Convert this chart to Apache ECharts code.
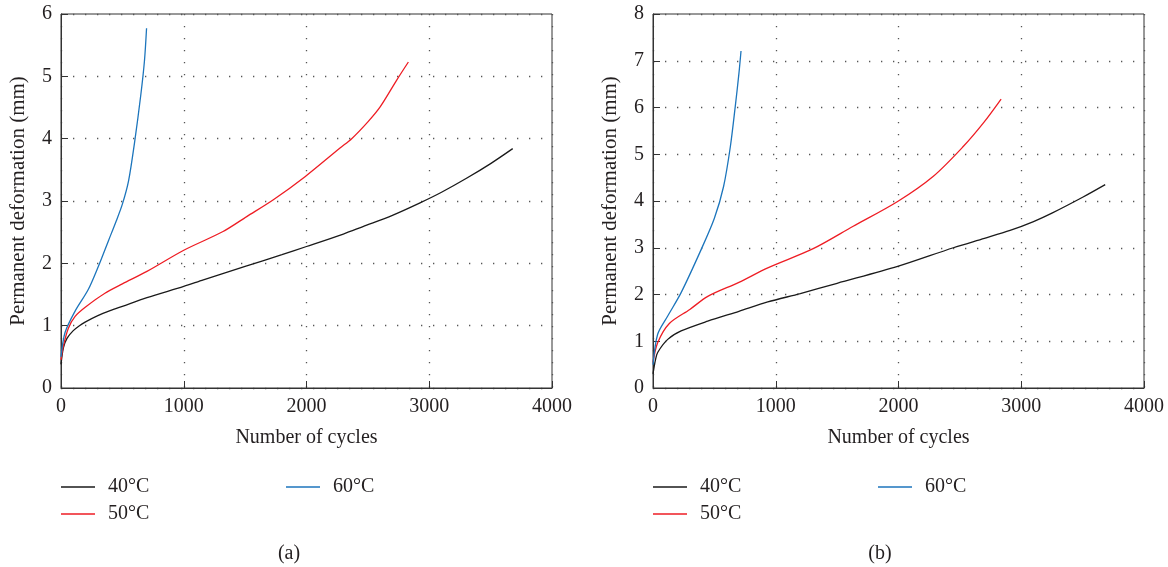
<!DOCTYPE html>
<html>
<head>
<meta charset="utf-8">
<script src="https://cdn.jsdelivr.net/npm/echarts@6/dist/echarts.min.js"></script>
<style>
html,body{margin:0;padding:0;background:#fff;}
#chart{width:1168px;height:567px;}
</style>
</head>
<body>
<div id="chart"></div>
<script>
// ---- data ----
const seriesNames = ['40°C', '50°C', '60°C'];
const xTicks = [0, 1000, 2000, 3000, 4000];

// panel (a)
const a40x = [0, 20, 50, 100, 150, 200, 300, 400, 500, 700, 1000, 1160, 1500, 1800, 2000, 2300, 2460, 2700, 2925, 3100, 3300, 3500, 3680];
const a40y = [0.38, 0.65, 0.8, 0.92, 1.0, 1.06, 1.16, 1.24, 1.31, 1.45, 1.63, 1.735, 1.95, 2.14, 2.27, 2.47, 2.59, 2.77, 2.97, 3.14, 3.36, 3.6, 3.84];
const a50x = [0, 20, 60, 115, 200, 358, 500, 700, 1000, 1320, 1513, 1730, 1988, 2273, 2368, 2500, 2600, 2735, 2830];
const a50y = [0.45, 0.68, 0.96, 1.15, 1.3, 1.52, 1.67, 1.87, 2.21, 2.51, 2.75, 3.02, 3.39, 3.85, 4.0, 4.27, 4.51, 4.94, 5.23];
const a60x = [0, 33, 114, 222, 304, 386, 450, 500, 550, 600, 650, 680, 697];
const a60y = [0.5, 0.89, 1.23, 1.58, 1.95, 2.36, 2.68, 2.95, 3.32, 3.95, 4.7, 5.25, 5.77];

// panel (b)
const b40x = [0, 20, 38, 120, 229, 446, 700, 935, 1200, 1500, 1993, 2447, 2700, 2909, 3100, 3250, 3500, 3684];
const b40y = [0.3, 0.6, 0.76, 1.04, 1.22, 1.43, 1.64, 1.84, 2.02, 2.24, 2.6, 3.0, 3.2, 3.37, 3.56, 3.74, 4.08, 4.35];
const b50x = [0, 38, 133, 300, 446, 700, 935, 1305, 1631, 1993, 2284, 2529, 2692, 2836];
const b50y = [0.55, 0.97, 1.38, 1.68, 1.96, 2.26, 2.57, 2.98, 3.46, 3.99, 4.53, 5.17, 5.67, 6.18];
const b60x = [0, 38, 120, 229, 392, 500, 575, 630, 670, 700, 717];
const b60y = [0.5, 1.15, 1.54, 2.04, 2.96, 3.63, 4.31, 5.16, 6.02, 6.73, 7.21];

const yMaxA = 6, yMaxB = 8;
const captions = ['(a)', '(b)'];
const xName = 'Number of cycles';
const yName = 'Permanent deformation (mm)';

// ---- styles ----
const FONT = '"Liberation Serif", "DejaVu Serif", serif';
const TXT = '#231f20';
const colors = ['#1a1a1a', '#ee1d24', '#1c75bc'];

function zip(xs, ys) { return xs.map((x, i) => [x, ys[i]]); }

const chart = echarts.init(document.getElementById('chart'), null, {renderer: 'canvas'});

function xAxisCfg(gi) {
  return {
    gridIndex: gi, type: 'value', min: 0, max: 4000, interval: 1000,
    name: xName, nameLocation: 'middle', nameGap: 40,
    nameTextStyle: {fontFamily: FONT, fontSize: 20, color: TXT},
    axisLine: {show: true, lineStyle: {color: '#333', width: 1}},
    axisTick: {show: true, inside: true, length: 7, lineStyle: {color: '#333'}},
    axisLabel: {fontFamily: FONT, fontSize: 20, color: TXT, margin: 9, formatter: v => String(v)},
    splitLine: {show: true, lineStyle: {color: '#555', width: 1.3, type: [1.3, 10.7]}}
  };
}
function yAxisCfg(gi, max) {
  return {
    gridIndex: gi, type: 'value', min: 0, max: max, interval: 1,
    name: yName, nameLocation: 'middle', nameGap: 32,
    nameTextStyle: {fontFamily: FONT, fontSize: 21, color: TXT},
    axisLine: {show: true, lineStyle: {color: '#333', width: 1}},
    axisTick: {show: true, inside: true, length: 7, lineStyle: {color: '#333'}},
    axisLabel: {fontFamily: FONT, fontSize: 20, color: TXT, margin: 9, formatter: v => String(v)},
    splitLine: {show: true, lineStyle: {color: '#555', width: 1.3, type: [1.3, 10.7]}}
  };
}
function lineSeries(name, idx, gi, data) {
  return {
    name: name, type: 'line', xAxisIndex: gi, yAxisIndex: gi,
    data: data, symbol: 'none', smooth: 0.3,
    lineStyle: {color: colors[idx], width: 1.3}, itemStyle: {color: colors[idx]},
    animation: false
  };
}
function legendCfg(left, names) {
  return {
    left: left, top: 477, orient: 'vertical', icon: 'rect', padding: 0,
    itemWidth: 34, itemHeight: 1.5, itemGap: 7,
    data: names,
    textStyle: {fontFamily: FONT, fontSize: 20, color: TXT, lineHeight: 20, padding: [0, 0, 0, 8]},
    selectedMode: false
  };
}

const option = {
  backgroundColor: '#fff',
  animation: false,
  grid: [
    {left: 61, top: 14, width: 491, height: 374, show: true, borderColor: '#333', borderWidth: 1, containLabel: false},
    {left: 653, top: 14, width: 491, height: 374, show: true, borderColor: '#333', borderWidth: 1, containLabel: false}
  ],
  xAxis: [xAxisCfg(0), xAxisCfg(1)],
  yAxis: [yAxisCfg(0, yMaxA), yAxisCfg(1, yMaxB)],
  legend: [
    legendCfg(61, [seriesNames[0], seriesNames[1]]),
    legendCfg(286, [seriesNames[2]]),
    legendCfg(653, [seriesNames[0], seriesNames[1]]),
    legendCfg(878, [seriesNames[2]])
  ],
  graphic: [
    {type: 'text', x: 289, y: 554, style: {text: captions[0], font: '20px ' + FONT, fill: TXT, textAlign: 'center', textVerticalAlign: 'middle'}},
    {type: 'text', x: 880, y: 554, style: {text: captions[1], font: '20px ' + FONT, fill: TXT, textAlign: 'center', textVerticalAlign: 'middle'}}
  ],
  series: [
    lineSeries(seriesNames[0], 0, 0, zip(a40x, a40y)),
    lineSeries(seriesNames[1], 1, 0, zip(a50x, a50y)),
    lineSeries(seriesNames[2], 2, 0, zip(a60x, a60y)),
    lineSeries(seriesNames[0], 0, 1, zip(b40x, b40y)),
    lineSeries(seriesNames[1], 1, 1, zip(b50x, b50y)),
    lineSeries(seriesNames[2], 2, 1, zip(b60x, b60y))
  ]
};
chart.setOption(option);
</script>
</body>
</html>
